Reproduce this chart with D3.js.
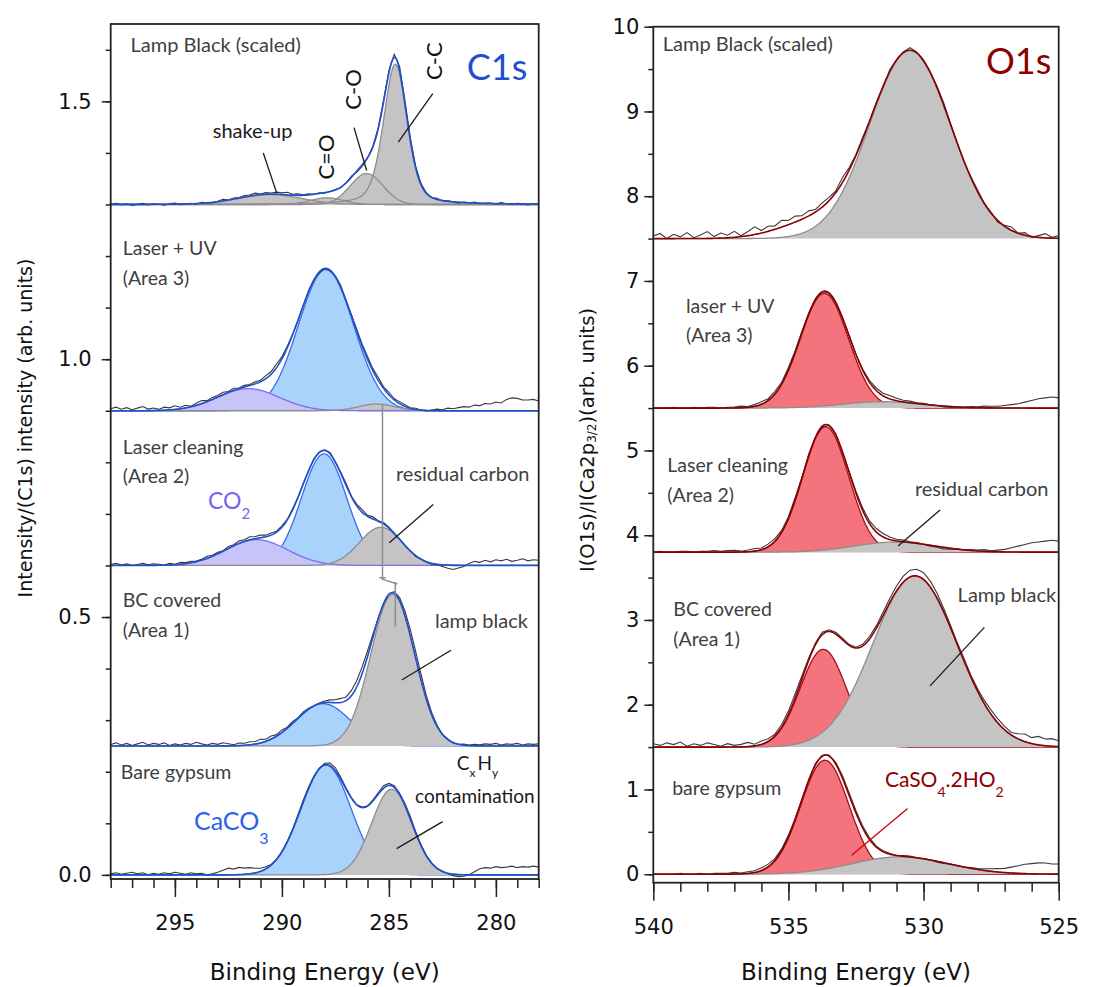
<!DOCTYPE html>
<html>
<head>
<meta charset="utf-8">
<script src="https://cdn.jsdelivr.net/npm/d3@7"></script>
<style>
  body { margin: 0; background: #fff; }
  text { font-family: Lato, 'Open Sans', sans-serif; }
  .axis text { font-family: 'DejaVu Sans', sans-serif; font-size: 21px; fill: #111; }
  .axis line { stroke: #222; stroke-width: 1.5; }
</style>
</head>
<body>
<div id="chart"></div>
<script>
// -------------------------------------------------- C1s (left) --------------------------------------------------
const c1sDomain = [298, 278];
const c1sMajor = [295, 290, 285, 280];
const c1sYMajor = [0, 0.5, 1.0, 1.5];
// vertical offsets of the stacked spectra, bottom to top
const c1sOffsets = [0, 0.25, 0.60, 0.90, 1.30];

// fitted components: [kind, centre (eV), height, FWHM (eV), lorentzian share]
const c1sGypsum = [['caco3', 287.94, 0.213, 2.75], ['grey', 284.87, 0.166, 2.2]];
const c1sCovered = [['caco3', 288.07, 0.082, 3.0], ['grey', 284.82, 0.294, 2.41]];
const c1sLaser = [['caco3', 288.03, 0.2165, 2.49], ['co2', 291.18, 0.050, 3.4], ['grey', 285.38, 0.074, 2.34]];
const c1sUV = [['caco3', 287.94, 0.274, 3.04], ['co2', 291.57, 0.043, 3.4], ['grey', 285.57, 0.013, 2.0]];
const c1sLamp = [['grey', 290.55, 0.019, 3.5], ['grey', 287.9, 0.013, 1.8], ['grey', 286.04, 0.06, 1.8], ['grey', 284.7, 0.272, 1.3, 0.35]];

// measured spectrum minus fit, evenly spaced from 298 to 278 eV (units of 0.001)
const c1sGypsumRes = [2,4,1,3,5,2,4,0,3,1, 4,2,5,3,1,4,2,3,0,2, 5,9,13,11,14,12,12,9,6,4, 1,0,-1,0,1,3,4,3,2,1,
  3,5,6,4,2,1,0,1,0,2, 3,5,4,3,2,4,5,3,2,1, 1,0,1,-1,-3,-4,-3,0,6,12, 14,13,16,14,15,17,14,16,15,17, 15];
const c1sCoveredRes = [3,6,2,5,1,4,7,2,5,3, 6,1,4,2,5,3,7,4,2,5, 3,6,4,2,5,4,6,5,7,4, 6,3,5,2,4,1,3,2,0,1,
  3,5,6,8,7,10,12,13,11,6, 2,-1,1,3,6,9,12,13,11,7, 4,2,0,1,-1,0,2,1,3,2, 4,3,5,2,4,3,5,2,4,3, 4];
const c1sLaserRes = [2,4,1,3,0,2,4,1,3,2, 0,3,1,4,2,3,1,2,4,2, 3,1,4,2,5,3,6,4,5,3, 4,2,3,1,2,0,1,-1,2,0,
  1,3,0,2,4,1,3,5,2,4, 1,3,2,0,1,-1,0,-2,0,-1, -2,-1,-3,-6,-8,-5,-2,4,8,6, 10,7,11,9,12,8,10,13,9,11, 10];
const c1sUVRes = [4,7,3,6,2,5,8,3,5,2, 6,4,7,3,5,1,4,6,2,4, 3,5,2,4,1,3,2,4,3,6, 5,7,4,3,1,-1,0,2,1,-2,
  0,-2,1,3,-1,2,4,3,5,4, 6,3,5,2,4,3,1,2,0,-1, 1,3,2,5,4,6,8,7,11,10, 14,13,17,15,22,25,24,21,21,22, 19];
const c1sLampRes = [0,2,-1,1,-2,0,2,-1,1,0, -2,1,2,-1,0,1,-1,2,0,-1, 1,3,0,2,1,3,2,4,1,3, 2,4,3,5,2,3,1,2,0,1,
  -1,0,1,-1,0,2,-2,-3,-1,1, 2,4,5,6,7,6,5,3,2,1, 0,2,-1,1,0,-2,1,0,2,-1, 0,1,-1,2,0,-1,1,0,-2,1, 0];

// -------------------------------------------------- O1s (right) --------------------------------------------------
const o1sDomain = [540, 525];
const o1sMajor = [540, 535, 530, 525];
const o1sYMajor = [0, 1, 2, 3, 4, 5, 6, 7, 8, 9, 10];
const o1sOffsets = [0, 1.5, 3.8, 5.5, 7.5];

const o1sGypsum = [['so4', 533.65, 1.345, 2.1], ['grey', 530.87, 0.205, 4.2]];
const o1sCovered = [['so4', 533.71, 1.153, 2.0], ['grey', 530.32, 2.02, 3.65]];
const o1sLaser = [['so4', 533.62, 1.48, 2.0], ['grey', 531.06, 0.12, 3.5]];
const o1sUV = [['so4', 533.67, 1.354, 2.1], ['grey', 531.5, 0.075, 3.5]];
const o1sLamp = [['hidden', 534.2, 0.17, 3.0], ['grey', 530.5, 2.22, 3.53]];

// measured spectrum minus fit, evenly spaced from 540 to 525 eV (units of 0.01)
const o1sGypsumRes = [0,0,0,0,1,0,0,1,0,1, 1,1,2,1,2,2,3,3,2,2, 2,1,1,1,2,1,1,2,3,3, 3,2,2,1,1,1,0,1,1,0,
  0,0,-1,-1,0,0,0,1,1,2, 3,4,5,7,9,11,12,13,13,12, 12];
const o1sCoveredRes = [4,2,5,3,6,1,4,2,5,3, 1,4,2,3,5,2,4,3,2,3, 4,5,4,3,2,3,2,2,2,1, 1,2,3,3,4,5,6,7,8,8,
  8,7,6,4,3,2,3,2,3,4, 5,5,4,3,6,9,7,10,8,9, 7];
const o1sLaserRes = [0,1,0,0,1,1,0,1,1,2, 1,2,2,1,2,3,2,3,3,2, 2,3,1,2,0,-1,0,1,-1,1, 2,3,3,4,4,3,2,2,1,1,
  0,-1,-1,-2,-1,0,0,1,1,2, 1,2,3,5,7,9,11,12,13,14, 13];
const o1sUVRes = [0,0,0,1,0,0,1,0,1,1, 0,1,1,2,1,2,3,2,3,2, 3,2,2,1,1,0,0,-1,0,1, 0,1,2,3,3,4,3,2,2,1,
  1,0,0,-1,-1,0,0,1,1,2, 2,2,3,4,5,7,9,11,12,13, 12];
const o1sLampRes = [3,6,0,5,2,7,1,4,8,2, 6,3,7,1,5,9,3,6,4,8, 5,7,4,6,3,5,4,2,6,3, 1,2,0,1,-1,2,0,1,3,1,
  -1,0,2,3,1,0,-1,1,2,0, 1,-2,1,4,0,3,-1,2,5,1, 3];

// -------------------------------------------------- drawing --------------------------------------------------
const svg = d3.select('#chart').append('svg')
    .attr('width', 1111)
    .attr('height', 987);

const xC = d3.scaleLinear().domain(c1sDomain).range([110.7, 538.7]);
const yC = d3.scaleLinear().domain([-0.008, 1.65]).range([879, 24]);
const xO = d3.scaleLinear().domain(o1sDomain).range([653.3, 1058.7]);
const yO = d3.scaleLinear().domain([-0.1, 10]).range([882.7, 26.7]);

const fillOf = {caco3: '#aad3fb', co2: '#c6c4f8', grey: '#c4c4c4', so4: '#f4737c'};
const edgeOf = {caco3: '#3d6ae8', co2: '#7b6ef0', grey: '#8d8d8d', so4: '#9e1016'};

// pseudo-Voigt line shape
function profile(E, p) {
    const d = (E - p[1]) / p[3];
    const eta = p[4] || 0;
    return p[2] * ((1 - eta) * Math.exp(-4 * Math.LN2 * d * d) + eta / (1 + 4 * d * d));
}

function drawSpectrum(x, y, base, comps, resid, unit, envColor) {
    const g = svg.append('g');
    const [e0, e1] = x.domain();
    const grid = d3.range(401).map(i => e0 + (e1 - e0) * i / 400);
    const envelope = E => comps.reduce((s, p) => s + profile(E, p), 0);
    const area = d3.area().x(d => x(d[0])).y0(y(base)).y1(d => y(d[1]));
    const line = d3.line().x(d => x(d[0])).y(d => y(d[1]));
    const pts = p => grid.map(E => [E, base + profile(E, p)]);

    // coloured peaks go underneath, grey / CO2 ones on top
    const coloured = comps.filter(p => p[0] === 'caco3' || p[0] === 'so4');
    const neutral = comps.filter(p => p[0] === 'grey' || p[0] === 'co2');
    coloured.forEach(p => {
        g.append('path').attr('d', area(pts(p))).attr('fill', fillOf[p[0]]);
        g.append('path').attr('d', line(pts(p))).attr('fill', 'none')
            .attr('stroke', edgeOf[p[0]]).attr('stroke-width', 1.3);
    });
    neutral.forEach(p => g.append('path').attr('d', area(pts(p))).attr('fill', fillOf[p[0]]));
    neutral.forEach(p => g.append('path').attr('d', line(pts(p))).attr('fill', 'none')
        .attr('stroke', edgeOf[p[0]]).attr('stroke-width', 1.3));

    const raw = resid.map((r, i) => {
        const E = e0 + (e1 - e0) * i / (resid.length - 1);
        return [E, base + envelope(E) + r * unit];
    });
    g.append('path').attr('d', line(raw)).attr('fill', 'none')
        .attr('stroke', '#3a3a3a').attr('stroke-width', 1.1);
    g.append('path').attr('d', line(grid.map(E => [E, base + envelope(E)]))).attr('fill', 'none')
        .attr('stroke', envColor).attr('stroke-width', 1.6);
}

[c1sGypsum, c1sCovered, c1sLaser, c1sUV, c1sLamp].forEach((comps, i) =>
    drawSpectrum(xC, yC, c1sOffsets[i], comps,
        [c1sGypsumRes, c1sCoveredRes, c1sLaserRes, c1sUVRes, c1sLampRes][i], 0.001, '#1d4fd1'));
[o1sGypsum, o1sCovered, o1sLaser, o1sUV, o1sLamp].forEach((comps, i) =>
    drawSpectrum(xO, yO, o1sOffsets[i], comps,
        [o1sGypsumRes, o1sCoveredRes, o1sLaserRes, o1sUVRes, o1sLampRes][i], 0.01, '#8b0000'));

// -------------------------------------------------- axes --------------------------------------------------
function drawAxes(x, y, xMajor, xMinor, yMajor, yMinor, yFormat, yPad, top, bottom) {
    const [x0, x1] = x.range();
    const noDomain = g => g.select('.domain').remove();
    svg.append('g').attr('class', 'axis').attr('transform', `translate(0,${bottom})`)
        .call(d3.axisBottom(x).tickValues(xMinor).tickSize(9).tickFormat('')).call(noDomain);
    svg.append('g').attr('class', 'axis').attr('transform', `translate(0,${bottom})`)
        .call(d3.axisBottom(x).tickValues(xMajor).tickSize(18).tickPadding(18).tickFormat(d3.format('d')))
        .call(noDomain);
    svg.append('g').attr('class', 'axis').attr('transform', `translate(${x0},0)`)
        .call(d3.axisLeft(y).tickValues(yMinor).tickSize(5).tickFormat('')).call(noDomain);
    svg.append('g').attr('class', 'axis').attr('transform', `translate(${x0},0)`)
        .call(d3.axisLeft(y).tickValues(yMajor).tickSize(9).tickPadding(yPad).tickFormat(yFormat))
        .call(noDomain);
    svg.append('rect').attr('x', x0).attr('y', top).attr('width', x1 - x0).attr('height', bottom - top)
        .attr('fill', 'none').attr('stroke', '#222').attr('stroke-width', 1.8);
    svg.append('text').attr('x', (x0 + x1) / 2).attr('y', 980)
        .attr('text-anchor', 'middle').attr('font-size', 23).attr('fill', '#111')
        .style('font-family', "'DejaVu Sans', sans-serif")
        .text('Binding Energy (eV)');
}

drawAxes(xC, yC, c1sMajor, d3.range(278, 299), c1sYMajor, d3.range(0, 17).map(i => i / 10),
    d3.format('.1f'), 10, 24, 879);
drawAxes(xO, yO, o1sMajor, d3.range(525, 541), o1sYMajor, d3.range(0, 21).map(i => i / 2),
    d3.format('d'), 5, 26.7, 882.7);

svg.append('text').attr('transform', 'translate(25,428) rotate(-90)')
    .attr('text-anchor', 'middle').attr('dominant-baseline', 'central')
    .attr('font-size', 19).attr('fill', '#111').style('font-family', "'DejaVu Sans', sans-serif")
    .text('Intensity/(C1s) intensity (arb. units)');

const yTitleO = svg.append('text').attr('transform', 'translate(587,440) rotate(-90)')
    .attr('text-anchor', 'middle').attr('dominant-baseline', 'central')
    .attr('font-size', 19.5).attr('fill', '#111').style('font-family', "'DejaVu Sans', sans-serif");
yTitleO.append('tspan').text('I(O1s)/I(Ca2p');
yTitleO.append('tspan').attr('font-size', 12).attr('dy', 5).text('3/2');
yTitleO.append('tspan').attr('dy', -5).text(')(arb. units)');

// -------------------------------------------------- annotations --------------------------------------------------
function note(x, y, E, v, str, size, color) {
    return svg.append('text').attr('x', x(E)).attr('y', y(v))
        .attr('font-size', size).attr('fill', color).text(str);
}
function leader(x, y, a, b, color) {
    svg.append('line').attr('x1', x(a[0])).attr('y1', y(a[1])).attr('x2', x(b[0])).attr('y2', y(b[1]))
        .attr('stroke', color).attr('stroke-width', 1.3);
}
function turned(x, y, E, v, str) {
    svg.append('text').attr('transform', `translate(${x(E)},${y(v)}) rotate(-90)`)
        .attr('text-anchor', 'middle').attr('dominant-baseline', 'central')
        .attr('font-size', 22).attr('fill', '#111').text(str);
}
const grey = '#3f3f3f', ink = '#1a1a1a';

// C1s
note(xC, yC, 297.07, 1.595, 'Lamp Black (scaled)', 20, grey);
note(xC, yC, 281.36, 1.541, 'C1s', 36, '#1f4fcf');
note(xC, yC, 293.23, 1.428, 'shake-up', 20, ink);
turned(xC, yC, 287.97, 1.392, 'C=O');
turned(xC, yC, 286.72, 1.523, 'C-O');
turned(xC, yC, 282.93, 1.578, 'C-C');
leader(xC, yC, [290.87, 1.400], [290.24, 1.322], ink);
leader(xC, yC, [286.63, 1.449], [286.04, 1.366], ink);
leader(xC, yC, [282.95, 1.515], [284.56, 1.421], ink);

note(xC, yC, 297.44, 1.2016, 'Laser + UV', 19.5, grey);
note(xC, yC, 297.44, 1.143, '(Area 3)', 19.5, grey);
note(xC, yC, 297.44, 0.817, 'Laser cleaning', 19.5, grey);
note(xC, yC, 297.44, 0.760, '(Area 2)', 19.5, grey);
const co2 = note(xC, yC, 293.45, 0.709, 'CO', 23, '#7466f0');
co2.append('tspan').attr('font-size', 15).attr('dy', 10).text('2');
note(xC, yC, 284.67, 0.764, 'residual carbon', 20, grey);
leader(xC, yC, [282.93, 0.718], [284.98, 0.644], ink);

// peak shift marker between the laser cleaned and covered areas
const shift = d3.line().x(d => xC(d[0])).y(d => yC(d[1]));
svg.append('path').attr('fill', 'none').attr('stroke', '#8d8d8d').attr('stroke-width', 1.5)
    .attr('d', shift([[285.3, 0.913], [285.3, 0.576]]) + shift([[285.45, 0.576], [285.15, 0.576]]) +
        shift([[285.35, 0.574], [284.6, 0.564]]) + shift([[284.7, 0.568], [284.7, 0.481]]));

note(xC, yC, 297.44, 0.520, 'BC covered', 19.5, grey);
note(xC, yC, 297.44, 0.462, '(Area 1)', 19.5, grey);
note(xC, yC, 282.85, 0.479, 'lamp black', 20, grey);
leader(xC, yC, [282.1, 0.4355], [284.4, 0.378], ink);

note(xC, yC, 297.53, 0.1855, 'Bare gypsum', 19.5, grey);
const caco3 = note(xC, yC, 294.11, 0.0872, 'CaCO', 25, '#2a62ee');
caco3.append('tspan').attr('font-size', 16).attr('dy', 14).text('3');
const cxhy = note(xC, yC, 281.83, 0.2035, 'C', 19, ink);
cxhy.append('tspan').attr('font-size', 12).attr('dy', 7).text('x');
cxhy.append('tspan').attr('dy', -7).attr('dx', 2).text('H');
cxhy.append('tspan').attr('font-size', 12).attr('dy', 7).text('y');
note(xC, yC, 283.78, 0.1395, 'contamination', 19, ink);
leader(xC, yC, [282.49, 0.1033], [284.64, 0.051], ink);

// O1s
note(xO, yO, 539.65, 9.708, 'Lamp Black (scaled)', 20, grey);
note(xO, yO, 527.69, 9.445, 'O1s', 36, '#8b0000');
note(xO, yO, 538.79, 6.627, 'laser + UV', 19.5, grey);
note(xO, yO, 538.79, 6.285, '(Area 3)', 19.5, grey);
note(xO, yO, 539.48, 4.75, 'Laser cleaning', 19.5, grey);
note(xO, yO, 539.48, 4.396, '(Area 2)', 19.5, grey);
note(xO, yO, 530.32, 4.463, 'residual carbon', 20, grey);
leader(xO, yO, [529.39, 4.297], [530.94, 3.872], ink);
note(xO, yO, 539.26, 3.046, 'BC covered', 19.5, grey);
note(xO, yO, 539.26, 2.692, '(Area 1)', 19.5, grey);
note(xO, yO, 528.74, 3.215, 'Lamp black', 20, grey);
leader(xO, yO, [527.75, 2.913], [529.76, 2.223], ink);
note(xO, yO, 539.3, 0.933, 'bare gypsum', 19.5, grey);
const so4 = note(xO, yO, 531.43, 1.031, 'CaSO', 21, '#8b0000');
so4.append('tspan').attr('font-size', 14).attr('dy', 10).text('4');
so4.append('tspan').attr('dy', -10).text('.2HO');
so4.append('tspan').attr('font-size', 14).attr('dy', 10).text('2');
leader(xO, yO, [530.59, 0.776], [532.66, 0.224], '#d40000');
</script>
</body>
</html>
